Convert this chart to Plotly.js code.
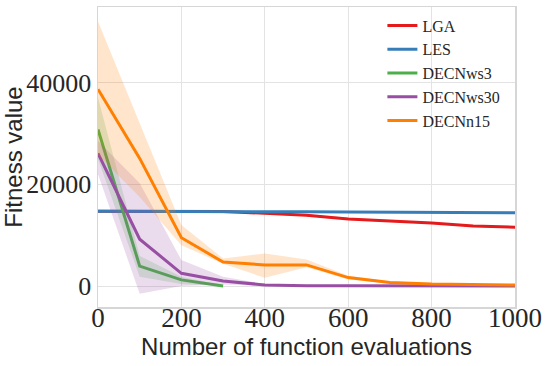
<!DOCTYPE html>
<html>
<head>
<meta charset="utf-8">
<script src="https://cdn.plot.ly/plotly-3.0.1.min.js"></script>
<style>
  html, body { margin: 0; padding: 0; background: #fff; }
  #chart { width: 548px; height: 366px; }
</style>
</head>
<body>
<div id="chart"></div>
<script>
// evaluation counts on the x axis
const evals = [0, 100, 200, 300, 400, 500, 600, 700, 800, 900, 1000];
const xTicks = [0, 200, 400, 600, 800, 1000];
const yTicks = [0, 20000, 40000];
const yTickText = ['0', '20000', '40000'];

// mean fitness per method
const lgaMean = [14700, 14700, 14700, 14650, 14300, 13900, 13200, 12800, 12400, 11800, 11550];
const lgaLow  = [14600, 14600, 14600, 14500, 14100, 13700, 13000, 12600, 12250, 11650, 11400];
const lgaHigh = [14800, 14800, 14800, 14800, 14500, 14100, 13400, 13000, 12550, 11950, 11700];

const lesMean = [14700, 14700, 14700, 14700, 14650, 14600, 14550, 14500, 14450, 14400, 14400];

// DECNws3 stops at 300 evaluations
const ws3Evals = [0, 100, 200, 300];
const ws3Mean = [30800, 3900, 1200, 0];
const ws3Low  = [25000, 1800, 400, 0];
const ws3High = [37000, 5900, 1800, 100];

const ws30Mean = [26100, 9200, 2500, 1000, 200, 50, 50, 30, 20, 20, 20];
const ws30Low  = [22000, -1500, 0, 300, 50, 0, 0, 0, 0, 0, 0];
const ws30High = [28500, 20200, 5100, 1800, 400, 150, 120, 80, 60, 50, 50];

const n15Mean = [38700, 25100, 9500, 4700, 4150, 4150, 1650, 700, 400, 300, 200];
const n15Low  = [25800, 17500, 8000, 4400, 1600, 3700, 1300, 500, 250, 150, 100];
const n15High = [52000, 32000, 12000, 5400, 6400, 5200, 2000, 900, 550, 450, 300];

const names = ['LGA', 'LES', 'DECNws3', 'DECNws30', 'DECNn15'];
const colors = ['#e41a1c', '#377eb8', '#4daf4a', '#984ea3', '#ff7f00'];
const bandColors = ['rgba(228,26,28,0.2)', 'rgba(55,126,184,0.2)', 'rgba(77,175,74,0.2)',
                    'rgba(152,78,163,0.2)', 'rgba(255,127,0,0.2)'];

const series = [
    { x: evals, mean: lgaMean, low: lgaLow, high: lgaHigh },
    { x: evals, mean: lesMean, low: null, high: null },
    { x: ws3Evals, mean: ws3Mean, low: ws3Low, high: ws3High },
    { x: evals, mean: ws30Mean, low: ws30Low, high: ws30High },
    { x: evals, mean: n15Mean, low: n15Low, high: n15High }
];

const traces = [];
series.forEach((s, i) => {
    if (s.low) {
        // lower edge, then upper edge filled down to it
        traces.push({
            x: s.x, y: s.low, mode: 'lines', line: { width: 0, color: bandColors[i] },
            showlegend: false, hoverinfo: 'skip'
        });
        traces.push({
            x: s.x, y: s.high, mode: 'lines', line: { width: 0, color: bandColors[i] },
            fill: 'tonexty', fillcolor: bandColors[i], showlegend: false, hoverinfo: 'skip'
        });
    }
    traces.push({
        x: s.x, y: s.mean, mode: 'lines', name: names[i],
        line: { color: colors[i], width: 3 }
    });
});

const gridCol = '#e3e3e3';
const textCol = '#262626';
const serif = '"Liberation Serif", "Times New Roman", serif';
const sans = '"Liberation Sans", Arial, sans-serif';

const layout = {
    width: 548,
    height: 366,
    font: { family: serif, size: 25, color: textCol },
    paper_bgcolor: '#ffffff',
    plot_bgcolor: '#ffffff',
    margin: { l: 98, r: 33, t: 7, b: 59 },
    showlegend: true,
    legend: {
        x: 0.682, y: 0.995, xanchor: 'left', yanchor: 'top',
        traceorder: 'normal',
        bgcolor: 'rgba(0,0,0,0)',
        font: { family: serif, size: 16, color: textCol }
    },
    xaxis: {
        range: [0, 1000],
        tickmode: 'array',
        tickvals: xTicks,
        showgrid: true, gridcolor: gridCol, gridwidth: 1,
        zeroline: false,
        showline: true, mirror: true, linecolor: '#d6d6d6', linewidth: 1.5,
        ticks: '',
        ticklabelstandoff: -14,
        tickfont: { family: serif, size: 27, color: textCol },
        title: {
            text: 'Number of function evaluations',
            font: { family: sans, size: 24, color: textCol },
            standoff: 0
        }
    },
    yaxis: {
        range: [-4130, 54870],
        tickmode: 'array',
        tickvals: yTicks,
        ticktext: yTickText,
        showgrid: true, gridcolor: gridCol, gridwidth: 1,
        zeroline: false,
        showline: true, mirror: true, linecolor: '#d6d6d6', linewidth: 1.5,
        ticks: '',
        tickfont: { family: serif, size: 26, color: textCol },
        title: {
            text: 'Fitness value',
            font: { family: sans, size: 24, color: textCol },
            standoff: 0
        }
    }
};

Plotly.newPlot('chart', traces, layout, { displayModeBar: false, staticPlot: true });
</script>
</body>
</html>
